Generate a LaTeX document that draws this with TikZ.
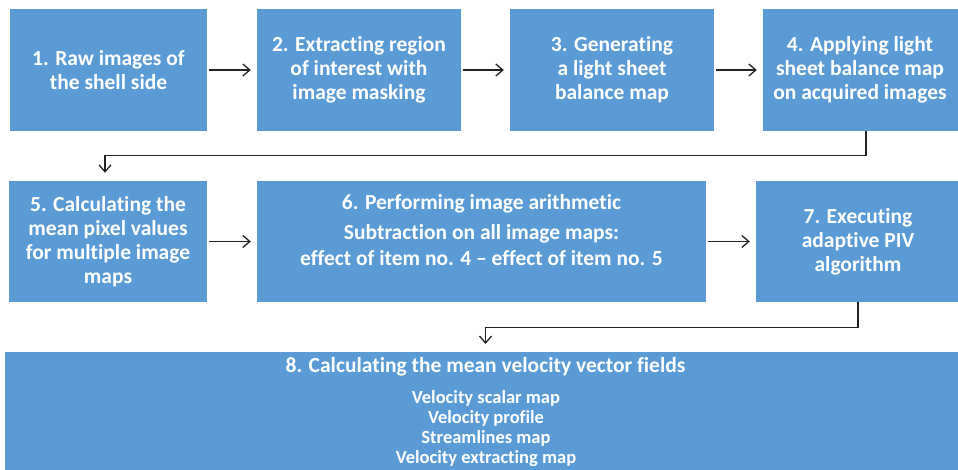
\documentclass[tikz,border=0pt]{standalone}
\usepackage{fontspec}
\setmainfont{Carlito}[Ligatures=NoCommon]
\usetikzlibrary{arrows.meta}
\definecolor{boxblue}{RGB}{91,155,213}
\definecolor{linegray}{RGB}{35,35,35}
\tikzset{
  stepbox/.style={fill=boxblue, draw=none, text=white, align=center, inner sep=0pt,
    font=\fontsize{21.5pt}{24pt}\selectfont\bfseries},
  boxtext/.style={text=white, align=center, inner sep=0pt},
  arr/.style={draw=linegray, line width=1.3pt, -{Straight Barb[length=7pt,width=12pt,line width=1.3pt]}},
}
\begin{document}
\begin{tikzpicture}[x=1pt,y=1pt]
\useasboundingbox[fill=white] (0,0) rectangle (958,-470);
% row 1
\node[stepbox, minimum width=197pt, minimum height=122pt] (b1) at (108.5,-70) {1. Raw images of\\the shell side};
\node[stepbox, minimum width=204pt, minimum height=122pt] (b2) at (359,-70) {2. Extracting region\\of interest with\\image masking};
\node[stepbox, minimum width=204pt, minimum height=122pt] (b3) at (612,-70) {3. Generating\\a light sheet\\balance map};
\node[stepbox, minimum width=200pt, minimum height=122pt] (b4) at (863,-70) {};
\node[boxtext, font=\fontsize{21.5pt}{24pt}\selectfont\bfseries] (t4) at (860,-69.5) {4. Applying light\\sheet balance map\\on acquired images};
% row 2
\node[stepbox, minimum width=198pt, minimum height=121pt] (b5) at (108,-241.5) {5. Calculating the\\mean pixel values\\for multiple image\\maps};
\node[stepbox, minimum width=449pt, minimum height=121pt] (b6) at (481.5,-241.5) {};
\node[boxtext, font=\fontsize{21.5pt}{26pt}\selectfont\bfseries, anchor=center] (t6) at (481.5,-230.5) {6. Performing image arithmetic\\[4pt]Subtraction on all image maps:\\effect of item no. 4 -- effect of item no. 5};
\node[stepbox, minimum width=204pt, minimum height=121pt] (b7) at (858,-241.5) {7. Executing\\adaptive PIV\\algorithm};
% row 3
\node[stepbox, minimum width=960pt, minimum height=118pt, anchor=north west] (b8) at (5,-352) {};
\node[boxtext, font=\fontsize{21.5pt}{24pt}\selectfont\bfseries] (t8) at (485.5,-367) {8. Calculating the mean velocity vector fields};
\node[boxtext, font=\fontsize{18.5pt}{20pt}\selectfont\bfseries] (t8b) at (486,-429) {Velocity scalar map\\Velocity profile\\Streamlines map\\Velocity extracting map};
% connectors
\draw[arr, shorten <=2pt, shorten >=6pt] (b1) -- (b2);
\draw[arr, shorten <=2pt, shorten >=6pt] (b2) -- (b3);
\draw[arr, shorten <=2pt, shorten >=6pt] (b3) -- (b4);
\draw[arr, shorten <=2pt, shorten >=6pt] (b5) -- (b6);
\draw[arr, shorten <=2pt, shorten >=6pt] (b6) -- (b7);
\draw[arr] ([xshift=3pt]b4.south) -- ++(0,-24) -| ([xshift=-3pt,yshift=8pt]b5.north);
\draw[arr] (b7.south) -- ++(0,-25) -| ([yshift=8pt]b8.north -| t8.north);
\end{tikzpicture}
\end{document}
